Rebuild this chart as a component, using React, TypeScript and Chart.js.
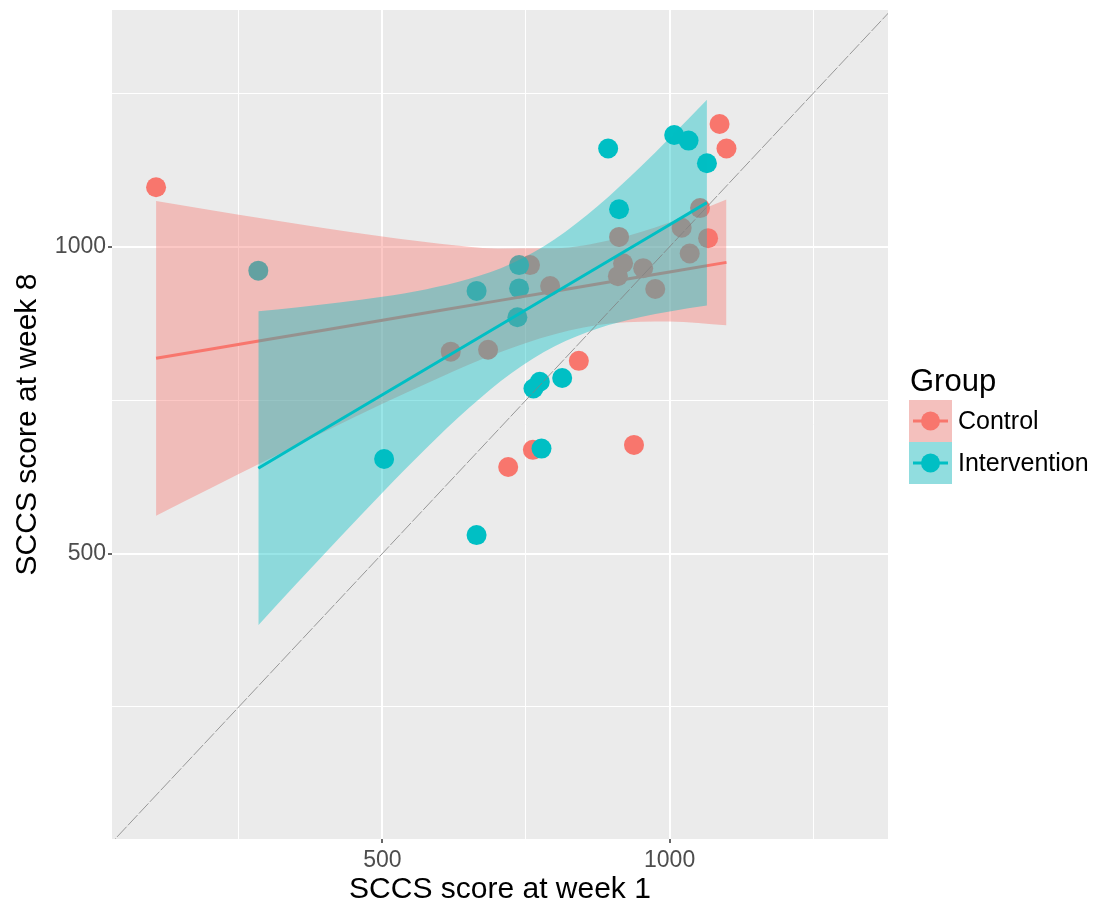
import React, { useEffect, useRef } from "react";
import { Chart, registerables } from "chart.js";

Chart.register(...registerables);

// ---------- data ----------
const groups = ["Control", "Intervention"];
const legendTitle = "Group";
const xTitle = "SCCS score at week 1";
const yTitle = "SCCS score at week 8";

const controlX = [106, 1087, 1099, 1067, 842, 938, 719, 762, 757, 792, 619, 684, 912, 919, 910, 954, 975, 1021, 1035, 1053];
const controlY = [1097, 1200, 1160, 1014, 814, 677, 641, 669, 970, 936, 829, 832, 1016, 973, 952, 965, 931, 1031, 989, 1063];

const interventionX = [284, 503, 664, 664, 738, 738, 735, 774, 763, 813, 777, 893, 1008, 1033, 1065, 912];
const interventionY = [961, 654, 530, 928, 970, 932, 885, 780, 769, 786, 671, 1160, 1182, 1173, 1136, 1061];

const controlBandX = [106, 200, 300, 400, 500, 600, 700, 800, 900, 1000, 1099];
const controlFit = [818.1, 832.9, 848.7, 864.4, 880.2, 895.9, 911.7, 927.4, 943.2, 958.9, 974.5];
const controlUpper = [1074.7, 1059.9, 1044.7, 1030.0, 1016.5, 1004.8, 997.2, 997.4, 1011.2, 1039.5, 1076.8];
const controlLower = [561.5, 605.9, 652.7, 698.8, 743.9, 787.0, 826.2, 857.4, 875.2, 878.3, 872.2];

const interventionBandX = [284, 350, 425, 500, 575, 650, 725, 800, 875, 950, 1000, 1065];
const interventionFit = [638.9, 675.5, 717.1, 758.7, 800.3, 841.9, 883.4, 925.0, 966.6, 1008.2, 1035.9, 1071.9];
const interventionUpper = [894.7, 900.9, 908.9, 918.3, 930.4, 947.2, 972.7, 1012.2, 1066.4, 1130.9, 1177.2, 1239.7];
const interventionLower = [383.1, 450.1, 525.3, 599.1, 670.2, 736.6, 794.1, 837.8, 866.8, 885.5, 894.6, 904.1];

const identityLine = [0, 1400];

const gridTicks = [250, 500, 750, 1000, 1250];
const labelTicks = [500, 1000];
const xRange = [29.3, 1380.2];
const yRange = [34.7, 1385.8];

// ---------- styles ----------
const groupColors = ["#F8766D", "#00BFC4"];
const ribbonColors = ["rgba(248,118,109,0.4)", "rgba(0,191,196,0.4)"];
const FONT = '"Liberation Sans", Arial, Helvetica, sans-serif';

const toXY = (xs: number[], ys: number[]) => xs.map((x, i) => ({ x, y: ys[i] }));

export default function App() {
  const ref = useRef<HTMLCanvasElement | null>(null);

  useEffect(() => {
    const canvas = ref.current;
    if (!canvas) return;

    const panelPlugin = {
      id: "panelBg",
      beforeDraw(chart: any) {
        const { ctx, chartArea: a } = chart;
        ctx.save();
        ctx.fillStyle = "#EBEBEB";
        ctx.fillRect(a.left, a.top, a.right - a.left, a.bottom - a.top);
        ctx.restore();
      },
    };

    const legendPlugin = {
      id: "ggLegend",
      afterDraw(chart: any) {
        const ctx = chart.ctx;
        const left = 909;
        const boxW = 43;
        const boxH = 42;
        const top0 = 400;
        ctx.save();
        ctx.fillStyle = "#000000";
        ctx.font = `31px ${FONT}`;
        ctx.textBaseline = "alphabetic";
        ctx.textAlign = "left";
        ctx.fillText(legendTitle, left + 1, 391);
        groups.forEach((g, i) => {
          const top = top0 + i * boxH;
          ctx.fillStyle = "#F2F2F2";
          ctx.fillRect(left, top, boxW, boxH);
          ctx.fillStyle = ribbonColors[i];
          ctx.fillRect(left, top, boxW, boxH);
          const cy = top + boxH / 2;
          ctx.strokeStyle = groupColors[i];
          ctx.lineWidth = 3;
          ctx.beginPath();
          ctx.moveTo(left + 4, cy);
          ctx.lineTo(left + boxW - 4, cy);
          ctx.stroke();
          ctx.fillStyle = groupColors[i];
          ctx.beginPath();
          ctx.arc(left + boxW / 2, cy, 9.5, 0, Math.PI * 2);
          ctx.fill();
          ctx.fillStyle = "#000000";
          ctx.font = `25px ${FONT}`;
          ctx.textBaseline = "middle";
          ctx.fillText(g, left + boxW + 6, cy + 1);
        });
        ctx.restore();
      },
    };

    const isMajor = (v: any) => labelTicks.includes(v);

    const gridOpts = {
      color: "#FFFFFF",
      lineWidth: (c: any) => (c.tick && isMajor(c.tick.value) ? 2 : 1),
      tickColor: (c: any) => (c.tick && isMajor(c.tick.value) ? "#333333" : "rgba(0,0,0,0)"),
      tickWidth: 1.5,
      tickLength: 4,
      drawTicks: true,
      drawOnChartArea: true,
    };

    const tickFont = { family: FONT, size: 23 };
    const titleFont = { family: FONT, size: 30, lineHeight: 1 };

    const lineDs = (data: any[], color: string, order: number, extra: any = {}) => ({
      type: "line" as const,
      data,
      borderColor: color,
      borderWidth: 3,
      pointRadius: 0,
      pointHoverRadius: 0,
      fill: false,
      order,
      ...extra,
    });

    const chart = new Chart(canvas, {
      type: "scatter",
      data: {
        datasets: [
          {
            label: groups[0],
            data: toXY(controlX, controlY),
            backgroundColor: groupColors[0],
            borderWidth: 0,
            pointRadius: 10,
            pointHoverRadius: 10,
            order: 10,
          } as any,
          {
            label: groups[1],
            data: toXY(interventionX, interventionY),
            backgroundColor: groupColors[1],
            borderWidth: 0,
            pointRadius: 10,
            pointHoverRadius: 10,
            order: 9,
          } as any,
          // 2: control lower
          lineDs(toXY(controlBandX, controlLower), "rgba(0,0,0,0)", 8, { borderWidth: 0, tension: 0.4, cubicInterpolationMode: "monotone" }),
          // 3: control upper (fill to 2)
          lineDs(toXY(controlBandX, controlUpper), "rgba(0,0,0,0)", 7, {
            borderWidth: 0,
            fill: 2,
            backgroundColor: ribbonColors[0],
            tension: 0.4,
            cubicInterpolationMode: "monotone",
          }),
          // 4: control fit
          lineDs(toXY(controlBandX, controlFit), groupColors[0], 6),
          // 5: intervention lower
          lineDs(toXY(interventionBandX, interventionLower), "rgba(0,0,0,0)", 5, { borderWidth: 0, tension: 0.4, cubicInterpolationMode: "monotone" }),
          // 6: intervention upper (fill to 5)
          lineDs(toXY(interventionBandX, interventionUpper), "rgba(0,0,0,0)", 4, {
            borderWidth: 0,
            fill: 5,
            backgroundColor: ribbonColors[1],
            tension: 0.4,
            cubicInterpolationMode: "monotone",
          }),
          // 7: intervention fit
          lineDs(toXY(interventionBandX, interventionFit), groupColors[1], 3),
          // 8: identity line
          lineDs(toXY(identityLine, identityLine), "rgba(130,130,130,0.8)", 1, { borderWidth: 1, borderDash: [14, 2] }),
        ],
      },
      options: {
        animation: false,
        responsive: false,
        devicePixelRatio: 1,
        events: [],
        layout: { padding: { left: 0, right: 211, top: 10, bottom: 0 } },
        plugins: {
          legend: { display: false },
          tooltip: { enabled: false },
          filler: { propagate: false },
        },
        scales: {
          x: {
            type: "linear",
            min: xRange[0],
            max: xRange[1],
            afterBuildTicks: (s: any) => {
              s.ticks = gridTicks.map((v) => ({ value: v }));
            },
            afterFit: (s: any) => {
              s.height = 70;
              s.paddingLeft = 0;
              s.paddingRight = 0;
            },
            grid: gridOpts as any,
            border: { display: false },
            ticks: {
              callback: (v: any) => (isMajor(v) ? String(v) : ""),
              color: "#4D4D4D",
              font: tickFont,
              padding: 4,
              maxRotation: 0,
              minRotation: 0,
              autoSkip: false,
            },
            title: {
              display: true,
              text: xTitle,
              color: "#000000",
              font: titleFont,
              padding: { top: 0, bottom: 4 },
            },
          },
          y: {
            type: "linear",
            min: yRange[0],
            max: yRange[1],
            afterBuildTicks: (s: any) => {
              s.ticks = gridTicks.map((v) => ({ value: v }));
            },
            afterFit: (s: any) => {
              s.width = 112;
              s.paddingTop = 0;
              s.paddingBottom = 0;
            },
            grid: gridOpts as any,
            border: { display: false },
            ticks: {
              callback: (v: any) => (isMajor(v) ? String(v) : ""),
              color: "#4D4D4D",
              font: tickFont,
              padding: 2,
              autoSkip: false,
            },
            title: {
              display: true,
              text: yTitle,
              color: "#000000",
              font: titleFont,
              padding: { top: 13, bottom: 0 },
            },
          },
        },
      },
      plugins: [panelPlugin, legendPlugin],
    } as any);

    return () => {
      chart.destroy();
    };
  }, []);

  return (
    <div style={{ position: "absolute", left: 0, top: 0, width: 1099, height: 909, background: "#FFFFFF" }}>
      <canvas ref={ref} width={1099} height={909} style={{ display: "block" }} />
    </div>
  );
}
